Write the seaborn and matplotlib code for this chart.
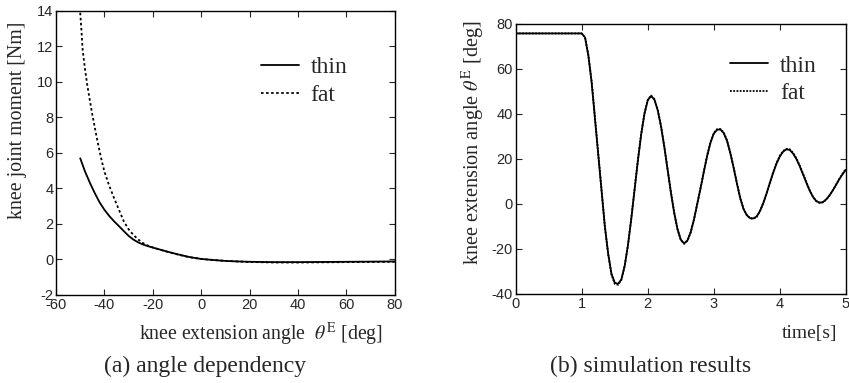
import numpy as np
import pandas as pd
import matplotlib
matplotlib.use("Agg")
import matplotlib.pyplot as plt
import seaborn as sns

# (a) angle dependency: knee joint moment vs knee extension angle
angle_thin = [-50, -48, -46, -44, -42, -40, -38, -36, -34, -32, -30, -28, -26, -24, -22, -20,
              -15, -10, -5, 0, 5, 10, 15, 20, 30, 40, 50, 60, 70, 80]
moment_thin = [5.7, 4.95, 4.32, 3.74, 3.22, 2.8, 2.45, 2.15, 1.88, 1.6, 1.33, 1.12, 0.96, 0.84, 0.75, 0.67,
               0.48, 0.3, 0.14, 0.03, -0.03, -0.08, -0.11, -0.13, -0.15, -0.15, -0.14, -0.13, -0.12, -0.11]
angle_fat = [-50, -49.5, -49, -48, -47, -46, -45, -44, -43, -42, -41, -40, -38, -36, -34, -32,
             -30, -28, -26, -24, -22, -20, -15, -10, -5, 0, 5, 10, 15, 20, 30, 40, 50, 60, 70, 80]
moment_fat = [13.9, 12.9, 11.8, 10.7, 9.75, 8.95, 8.15, 7.45, 6.75, 6.1, 5.5, 4.95, 4.15, 3.45, 2.8, 2.15,
              1.7, 1.38, 1.12, 0.92, 0.78, 0.68, 0.47, 0.29, 0.13, 0.03, -0.03, -0.08, -0.11, -0.14,
              -0.17, -0.17, -0.16, -0.15, -0.14, -0.13]

# (b) simulation results: knee extension angle vs time
time_s = [0.0, 0.5, 1.0, 1.05, 1.10, 1.15, 1.20, 1.25, 1.30, 1.35, 1.40, 1.45, 1.50, 1.55,
          1.60, 1.65, 1.70, 1.75, 1.80, 1.85, 1.90, 1.95, 2.00, 2.05,
          2.10, 2.15, 2.20, 2.25, 2.30, 2.35, 2.40, 2.45, 2.50, 2.55,
          2.60, 2.65, 2.70, 2.75, 2.80, 2.85, 2.90, 2.95, 3.00, 3.05, 3.10,
          3.15, 3.20, 3.25, 3.30, 3.35, 3.40, 3.45, 3.50, 3.55, 3.60,
          3.65, 3.70, 3.75, 3.80, 3.85, 3.90, 3.95, 4.00, 4.05, 4.10, 4.15,
          4.20, 4.25, 4.30, 4.35, 4.40, 4.45, 4.50, 4.55, 4.60, 4.65,
          4.70, 4.75, 4.80, 4.85, 4.90, 4.95, 5.00]
theta_thin = [75.8, 75.8, 75.8, 74.0, 66.0, 54.0, 38.0, 22.0, 6.0, -10.0, -22.0, -31.0, -35.0, -35.5,
              -33.5, -27.5, -18.3, -6.6, 6.3, 19.2, 30.9, 40.1, 46.1, 48.0,
              46.4, 41.7, 34.5, 25.4, 15.2, 5.1, -4.0, -11.2, -15.9, -17.5,
              -16.2, -12.5, -6.8, 0.2, 7.1, 14.5, 21.5, 27.3, 31.3, 33.0, 33.1,
              31.5, 28.0, 22.5, 16.0, 9.0, 2.5, -2.3, -5.0, -6.3, -6.4,
              -5.5, -3.0, 0.5, 4.8, 9.5, 14.0, 18.0, 21.2, 23.3, 24.3, 24.0,
              22.4, 20.0, 16.8, 13.2, 9.5, 6.0, 3.2, 1.3, 0.6, 0.8,
              2.0, 3.8, 6.0, 8.5, 11.0, 13.3, 15.2]
theta_fat = [75.8, 75.8, 75.8, 74.0, 66.3, 54.5, 38.5, 22.3, 6.2, -10.0, -22.3, -31.4, -35.5, -35.9,
             -33.8, -27.6, -18.2, -6.4, 6.6, 19.5, 31.2, 40.4, 46.4, 48.2,
             46.6, 41.9, 34.8, 25.7, 15.5, 5.3, -3.8, -11.2, -16.0, -17.7,
             -16.4, -12.6, -6.8, 0.3, 7.3, 14.7, 21.8, 27.6, 31.6, 33.3, 33.3,
             31.8, 28.3, 22.8, 16.3, 9.3, 2.7, -2.2, -5.0, -6.4, -6.6,
             -5.7, -3.1, 0.5, 4.9, 9.7, 14.3, 18.3, 21.5, 23.6, 24.5, 24.3,
             22.7, 20.3, 17.1, 13.5, 9.8, 6.2, 3.3, 1.3, 0.5, 0.7,
             1.9, 3.7, 6.0, 8.6, 11.2, 13.6, 15.6]

sns.set_style("ticks")
plt.rcParams["font.family"] = ["Liberation Sans", "DejaVu Sans"]
plt.rcParams["mathtext.fontset"] = "stix"
plt.rcParams["axes.unicode_minus"] = False

serif = ["Liberation Serif", "DejaVu Serif"]

fig = plt.figure(figsize=(8.49, 3.83), dpi=100)
ax1 = fig.add_axes([0.066, 0.2298, 0.399, 0.7415])
ax2 = fig.add_axes([0.6074, 0.2324, 0.389, 0.705])

df_a = pd.concat([
    pd.DataFrame({"angle": angle_thin, "moment": moment_thin, "body": "thin"}),
    pd.DataFrame({"angle": angle_fat, "moment": moment_fat, "body": "fat"}),
])
df_b = pd.concat([
    pd.DataFrame({"time": time_s, "theta": theta_thin, "body": "thin"}),
    pd.DataFrame({"time": time_s, "theta": theta_fat, "body": "fat"}),
])

sns.lineplot(data=df_a, x="angle", y="moment", hue="body", style="body",
             palette={"thin": "black", "fat": "black"},
             dashes={"thin": "", "fat": (1.4, 1.4)}, linewidth=1.3,
             sort=False, ax=ax1)
sns.lineplot(data=df_b, x="time", y="theta", hue="body", style="body",
             palette={"thin": "black", "fat": "black"},
             dashes={"thin": "", "fat": (1.0, 0.8)}, linewidth=1.3,
             sort=False, ax=ax2)

for ax in (ax1, ax2):
    for sp in ax.spines.values():
        sp.set_linewidth(1.0)
        sp.set_color("black")
    ax.tick_params(direction="in", top=True, right=True, length=4, width=0.8,
                   labelsize=10.5, pad=2)
    ax.set_xlabel("")
    ax.set_ylabel("")

ax1.set_xlim(-60, 80)
ax1.set_ylim(-2, 14)
ax1.set_xticks(np.arange(-60, 81, 20))
ax1.set_yticks(np.arange(-2, 15, 2))

ax2.set_xlim(0, 5)
ax2.set_ylim(-40, 80)
ax2.set_xticks(np.arange(0, 6, 1))
ax2.set_yticks(np.arange(-40, 81, 20))

leg_kw = dict(frameon=False, loc="upper left", prop={"family": serif, "size": 17},
              handlelength=1.6, handletextpad=0.5, labelspacing=0.27,
              borderaxespad=0, borderpad=0)
ax1.legend(bbox_to_anchor=(0.605, 0.84), **leg_kw)
ax2.legend(bbox_to_anchor=(0.65, 0.885), **leg_kw)

ax1.set_ylabel("knee joint moment [Nm]", family=serif, fontsize=14.3)
ax1.yaxis.set_label_coords(-0.086, 0.615)
fig.text(0.451, 0.128, r"knee extension angle  $\theta^{\mathrm{E}}$ [deg]",
         family=serif, fontsize=14.2, ha="right", va="center")
fig.text(0.242, 0.044, "(a) angle dependency", family=serif, fontsize=17,
         ha="center", va="center")

ax2.set_ylabel(r"knee extension angle $\theta^{\mathrm{E}}$ [deg]", family=serif,
               fontsize=14.6)
ax2.yaxis.set_label_coords(-0.087, 0.561)
fig.text(0.986, 0.13, "time[s]", family=serif, fontsize=14, ha="right",
         va="center")
fig.text(0.766, 0.044, "(b) simulation results", family=serif, fontsize=17,
         ha="center", va="center")

fig.savefig("out.png", dpi=100)
